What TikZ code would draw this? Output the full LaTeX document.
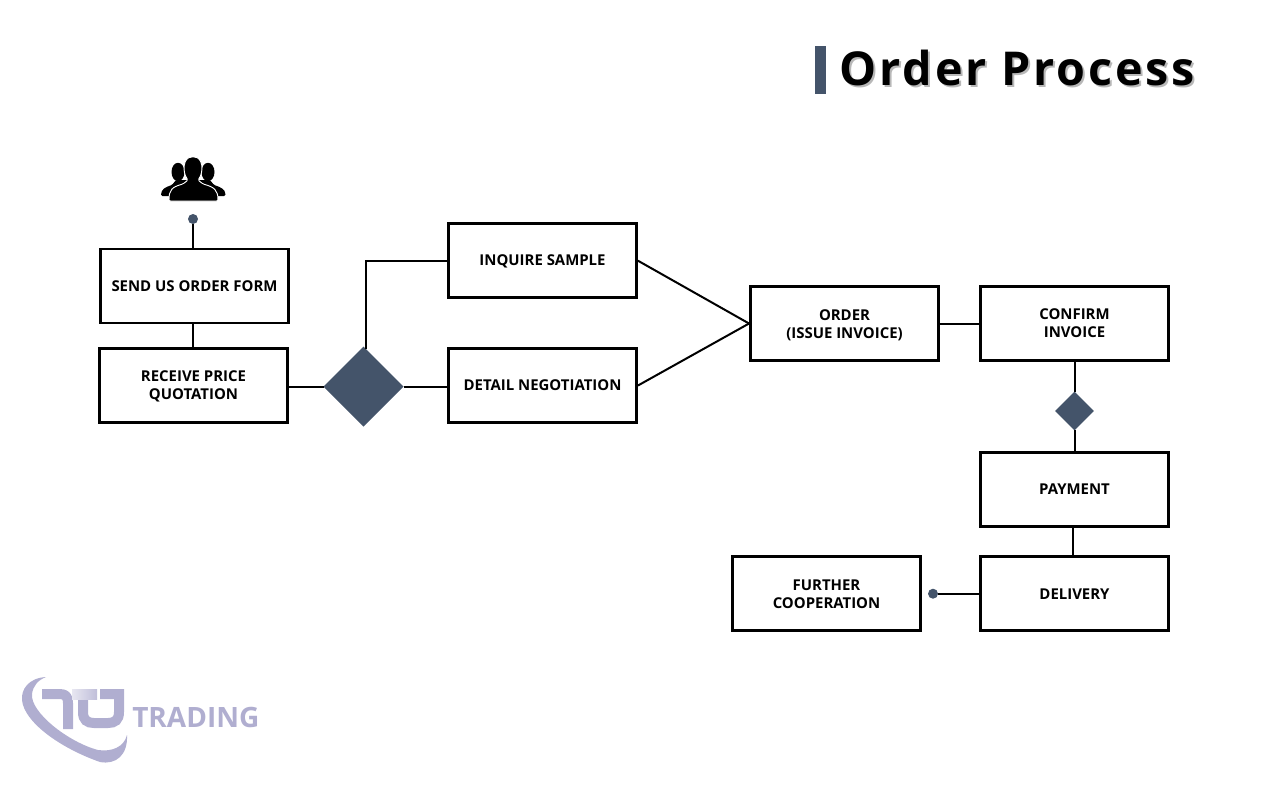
\documentclass[tikz,border=0pt]{standalone}
\usepackage{fontspec}
\setmainfont{Open Sans}
\newfontfamily\titlefont[LetterSpace=6]{Open Sans}
\usetikzlibrary{shapes.geometric,calc}
\definecolor{slate}{HTML}{44546A}
\definecolor{logo}{HTML}{B0AED0}
\newcommand{\lowertext}[2]{\raisebox{-#1}[\height][\depth]{#2}}
\tikzset{
  boxnode/.style={draw=black,line width=2.2pt,fill=white,inner sep=0pt,minimum width=141pt,minimum height=55.5pt,align=center,font=\fontsize{11.2}{13.5}\selectfont\bfseries},
  link/.style={draw=black,line width=1.5pt},
  dotnode/.style={circle,fill=slate,inner sep=0pt,minimum size=7.5pt},
  dia/.style={diamond,fill=slate,inner sep=0pt,outer sep=0pt,aspect=1},
}
\begin{document}
\begin{tikzpicture}[x=0.75pt,y=-0.75pt]
\useasboundingbox (0,0) rectangle (1280,801);
% title
\fill[slate] (815,46) rectangle (826,94);
\node[anchor=west,inner sep=0pt,font=\fontsize{35}{40}\selectfont\bfseries\titlefont] (title) at (839.5,68.5) {\rlap{\raisebox{-1.5pt}{\hspace{1.5pt}\textcolor{black!28}{Order Process}}}Order Process};
% people icon
\fill[black] (178,172) ellipse (4.875pt and 6.9pt);
\fill[black] (208,172) ellipse (4.875pt and 6.9pt);
\fill[black,rounded corners=1pt] (161,196) .. controls (161,189) and (166,187) .. (172,185) -- (176,180) -- (210,180) -- (214,185) .. controls (220,187) and (225.5,189) .. (225.5,196) -- cycle;
\fill[black,draw=white,line width=0.7pt,rounded corners=1pt] (169,201) .. controls (169,190) and (172,187) .. (183,184) -- (188,180) .. controls (182,172) and (183,157) .. (193,157) .. controls (203,157) and (204,172) .. (198,180) -- (203,184) .. controls (214,187) and (218,190) .. (218,201) -- cycle;
% boxes
\node[boxnode] (send) at (194.5,286) {SEND US ORDER FORM};
\node[boxnode] (receive) at (193.5,385.5) {\lowertext{0.6pt}{RECEIVE PRICE}\\\lowertext{0.6pt}{QUOTATION}};
\node[boxnode] (inquire) at (542.5,260.7) {\lowertext{0.8pt}{INQUIRE SAMPLE}};
\node[boxnode] (detail) at (542.5,385.5) {DETAIL NEGOTIATION};
\node[boxnode] (order) at (844.5,323.5) {\lowertext{1.2pt}{ORDER}\\\lowertext{1.2pt}{(ISSUE INVOICE)}};
\node[boxnode] (confirm) at (1074.5,323.5) {CONFIRM\\INVOICE};
\node[boxnode] (payment) at (1074.5,489.5) {PAYMENT};
\node[boxnode] (delivery) at (1074.5,593.7) {DELIVERY};
\node[boxnode] (further) at (826.5,593.7) {\lowertext{0.6pt}{FURTHER}\\\lowertext{0.6pt}{COOPERATION}};
% markers
\node[dotnode] (dotA) at (193,219) {};
\node[dotnode] (dotB) at (933,593.7) {};
\node[dia,minimum size=60pt] (bigdia) at (363.5,386.5) {};
\node[dia,minimum size=29pt] (smalldia) at (1074.5,411) {};
\coordinate (branch) at (366,349);
% connectors
\draw[link] (dotA) -- (dotA |- send.north);
\draw[link] (send.south -| dotA) -- (receive.north -| dotA);
\draw[link] (receive.east |- bigdia) -- (bigdia.west);
\draw[link] (bigdia.east) -- (detail.west |- bigdia);
\draw[link] (branch) |- (inquire.west);
\draw[link] (inquire.east) -- (order.west);
\draw[link] (detail.east) -- (order.west);
\draw[link] (order.east) -- (confirm.west);
\draw[link] (confirm.south) -- (smalldia.north);
\draw[link] (smalldia.south) -- (payment.north);
\draw[link] ($(payment.south)+(-1.5,0)$) -- ($(delivery.north)+(-1.5,0)$);
\draw[link] (delivery.west) -- (dotB);
% logo
\fill[logo] (46,677) .. controls (28,678) and (21,690) .. (22,700) .. controls (24,722) and (60,748) .. (100,762) .. controls (116,765) and (128,755) .. (127,735) .. controls (124,747) and (112,752) .. (98,750) .. controls (68,742) and (30,712) .. (32,694) .. controls (33,686) and (38,680) .. (46,677) -- cycle;
\draw[logo,line width=7.5pt,line join=round] (42,694) -- (60,694) .. controls (66,694) and (68,697) .. (68,703) -- (68,729);
\shade[left color=logo!30,right color=logo!80] (72,689) rectangle (97,699);
\draw[logo,line width=7.5pt] (100,694) -- (119,694) -- (119,712) .. controls (119,720) and (115,723) .. (108,723) -- (94,723) .. controls (87,723) and (83,720) .. (83,712) -- (83,700);
\node[anchor=west,inner sep=0pt,text=logo,font=\fontsize{21}{24}\selectfont\bfseries] (trading) at (132,717.5) {TRADING};
\end{tikzpicture}
\end{document}
